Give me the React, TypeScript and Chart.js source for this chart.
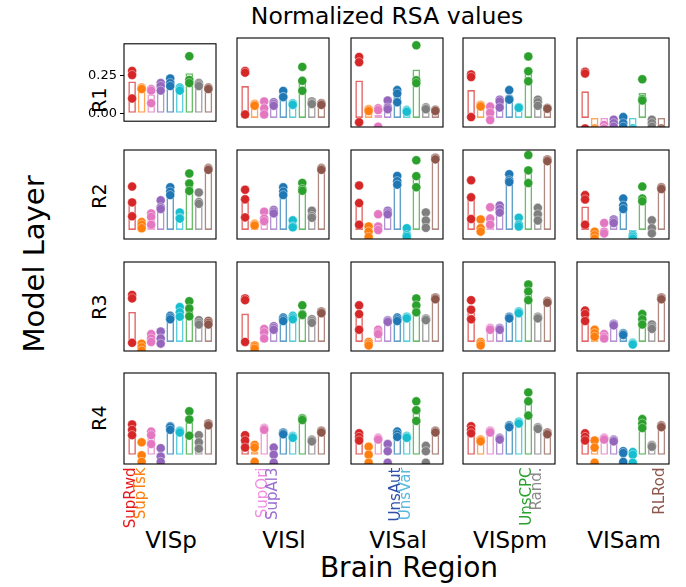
import React, { useEffect, useRef } from 'react';
import { Chart, registerables } from 'chart.js';
Chart.register(...registerables);

const CATEGORIES = ['SupRwd', 'SupTsk', 'SupOri', 'SupAl3', 'UnsAut', 'UnsVar', 'UnsCPC', 'Rand.', 'RLRod'];
const COLORS = ['#d62728', '#ff7f0e', '#e377c2', '#9467bd', '#1f77b4', '#17becf', '#2ca02c', '#7f7f7f', '#8c564b'];
const BAR_EDGE = ['rgba(214,39,40,0.7)', 'rgba(255,127,14,0.7)', 'rgba(227,119,194,0.7)', 'rgba(148,103,189,0.7)', 'rgba(31,119,180,0.7)', 'rgba(23,190,207,0.7)', 'rgba(44,160,44,0.7)', 'rgba(127,127,127,0.7)', 'rgba(140,86,75,0.7)'];
const LABEL_COLORS = ['#e41a1c', '#ff7f0e', '#f28ee0', '#9d6fd0', '#2f4fa8', '#5ab8e0', '#2ca02c', '#8a8a8a', '#8c564b'];
const REGIONS = ['VISp', 'VISl', 'VISal', 'VISpm', 'VISam'];
const LAYERS = ['R1', 'R2', 'R3', 'R4'];
const LAYER_LABEL_Y = [100, 196, 307, 418];
const Y_TICKS = [0, 0.25];
const Y_MIN = -0.052;
const Y_MAX = 0.459;
const COLUMN_LABELS = [[0, 1], [2, 3], [4, 5], [6, 7], [8]];

// bar heights: [region][category]
const R1_BARS = [
  [0.21, 0.17, 0.125, 0.18, 0.2, 0.16, 0.265, 0.19, 0.165],
  [0.183, 0.075, 0.057, 0.08, 0.13, 0.08, 0.22, 0.085, 0.08],
  [0.215, 0.045, 0.017, 0.07, 0.13, 0.04, 0.278, 0.055, 0.045],
  [0.16, 0.07, 0.028, 0.087, 0.125, 0.06, 0.277, 0.088, 0.055],
  [0.153, -0.07, -0.05, -0.03, -0.025, -0.05, 0.143, -0.03, -0.05],
];
const R2_BARS = [
  [0.162, 0.03, 0.067, 0.14, 0.22, 0.075, 0.27, 0.17, 0.35],
  [0.16, 0.03, 0.073, 0.105, 0.22, 0.03, 0.243, 0.087, 0.35],
  [0.146, -0.01, 0.036, 0.1, 0.283, -0.02, 0.318, 0.055, 0.41],
  [0.178, 0.02, 0.075, 0.12, 0.293, 0.04, 0.347, 0.09, 0.4],
  [0.135, -0.03, 0.003, 0.05, 0.147, -0.04, 0.198, 0.015, 0.24],
];
const R3_BARS = [
  [0.172, -0.03, 0.022, 0.023, 0.14, 0.172, 0.191, 0.112, 0.11],
  [0.163, -0.03, 0.05, 0.08, 0.13, 0.14, 0.175, 0.12, 0.17],
  [0.147, -0.01, 0.057, 0.12, 0.13, 0.14, 0.21, 0.13, 0.25],
  [0.185, -0.01, 0.075, 0.075, 0.14, 0.17, 0.287, 0.14, 0.23],
  [0.153, 0.05, 0.032, 0.1, 0.045, -0.01, 0.13, 0.087, 0.25],
];
const R4_BARS = [
  [0.14, 0.009, 0.1, -0.004, 0.152, 0.13, 0.183, 0.071, 0.17],
  [0.077, 0.018, 0.145, 0.0, 0.12, 0.1, 0.2, 0.08, 0.13],
  [0.1, 0.0, 0.09, 0.012, 0.115, 0.1, 0.247, 0.008, 0.13],
  [0.14, 0.08, 0.13, 0.09, 0.16, 0.18, 0.29, 0.15, 0.12],
  [0.1, 0.025, 0.09, 0.08, -0.003, -0.01, 0.175, 0.05, 0.16],
];

// individual points: [region][category][run]
const R1_POINTS = [
  [[0.28, 0.253, 0.098], [0.17, 0.165, 0.16], [0.16, 0.15, 0.067], [0.2, 0.18, 0.15], [0.23, 0.2, 0.18], [0.17, 0.16, 0.15], [0.377, 0.22, 0.2], [0.2, 0.19, 0.18], [0.17, 0.165, 0.16]],
  [[0.27, 0.26, 0.02], [0.08, 0.075, 0.07], [0.095, 0.055, 0.02], [0.09, 0.08, 0.07], [0.155, 0.12, 0.12], [0.085, 0.08, 0.075], [0.293, 0.213, 0.156], [0.095, 0.085, 0.08], [0.085, 0.08, 0.075]],
  [[0.35, 0.32, -0.025], [0.05, 0.045, 0.04], [0.055, 0.045, -0.05], [0.1, 0.06, 0.05], [0.16, 0.14, 0.09], [0.045, 0.04, 0.035], [0.417, 0.216, 0.2], [0.061, 0.055, 0.05], [0.046, 0.045, 0.04]],
  [[0.25, 0.235, 0.005], [0.075, 0.07, 0.065], [0.065, 0.03, -0.012], [0.105, 0.095, 0.06], [0.16, 0.11, 0.105], [0.062, 0.06, 0.058], [0.353, 0.268, 0.211], [0.105, 0.09, 0.07], [0.057, 0.055, 0.053]],
  [[0.265, 0.255, -0.06], [-0.06, -0.07, -0.08], [-0.04, -0.06, -0.06], [-0.01, -0.03, -0.05], [0.005, -0.03, -0.05], [-0.06, -0.06, -0.07], [0.222, 0.108, 0.1], [-0.01, -0.03, -0.05], [-0.06, -0.07, -0.08]],
];
const R2_POINTS = [
  [[0.249, 0.158, 0.078], [0.045, 0.03, 0.01], [0.095, 0.075, 0.03], [0.17, 0.13, 0.12], [0.245, 0.22, 0.2], [0.1, 0.07, 0.065], [0.324, 0.267, 0.224], [0.215, 0.16, 0.15], [0.355, 0.35, 0.345]],
  [[0.231, 0.176, 0.072], [0.035, 0.03, 0.025], [0.105, 0.065, 0.05], [0.115, 0.105, 0.095], [0.245, 0.22, 0.2], [0.055, 0.02, 0.015], [0.27, 0.235, 0.225], [0.11, 0.08, 0.07], [0.355, 0.35, 0.345]],
  [[0.255, 0.154, 0.03], [0.02, -0.01, -0.04], [0.09, 0.02, 0.0], [0.11, 0.1, 0.09], [0.31, 0.28, 0.26], [0.01, -0.03, -0.04], [0.4, 0.309, 0.245], [0.1, 0.054, 0.012], [0.415, 0.41, 0.405]],
  [[0.285, 0.187, 0.063], [0.06, 0.01, -0.01], [0.13, 0.065, 0.03], [0.14, 0.12, 0.1], [0.32, 0.285, 0.275], [0.07, 0.03, 0.02], [0.43, 0.342, 0.269], [0.127, 0.09, 0.054], [0.405, 0.4, 0.395]],
  [[0.2, 0.175, 0.03], [-0.01, -0.03, -0.05], [0.04, -0.01, -0.02], [0.06, 0.05, 0.04], [0.18, 0.14, 0.12], [-0.03, -0.04, -0.05], [0.249, 0.18, 0.165], [0.055, 0.01, -0.02], [0.245, 0.24, 0.235]],
];
const R3_POINTS = [
  [[0.27, 0.25, -0.005], [-0.01, -0.03, -0.05], [0.045, 0.02, 0.0], [0.06, 0.02, -0.01], [0.15, 0.14, 0.13], [0.2, 0.17, 0.145], [0.234, 0.192, 0.147], [0.125, 0.11, 0.1], [0.12, 0.11, 0.1]],
  [[0.25, 0.24, 0.0], [-0.02, -0.03, -0.04], [0.075, 0.055, 0.02], [0.09, 0.08, 0.07], [0.14, 0.13, 0.12], [0.15, 0.14, 0.13], [0.21, 0.16, 0.155], [0.13, 0.12, 0.11], [0.175, 0.17, 0.165]],
  [[0.21, 0.16, 0.07], [0.0, -0.01, -0.02], [0.07, 0.055, 0.045], [0.125, 0.12, 0.115], [0.14, 0.13, 0.12], [0.145, 0.14, 0.135], [0.25, 0.21, 0.17], [0.135, 0.13, 0.125], [0.255, 0.25, 0.245]],
  [[0.24, 0.185, 0.13], [0.0, -0.01, -0.02], [0.08, 0.075, 0.07], [0.08, 0.075, 0.07], [0.145, 0.14, 0.135], [0.175, 0.17, 0.165], [0.33, 0.29, 0.24], [0.145, 0.14, 0.135], [0.235, 0.23, 0.225]],
  [[0.18, 0.16, 0.12], [0.07, 0.05, 0.03], [0.045, 0.03, 0.02], [0.105, 0.1, 0.095], [0.05, 0.045, 0.04], [-0.005, -0.01, -0.015], [0.16, 0.13, 0.1], [0.1, 0.085, 0.075], [0.255, 0.25, 0.245]],
];
const R4_POINTS = [
  [[0.17, 0.14, 0.11], [0.07, -0.003, -0.04], [0.13, 0.11, 0.06], [0.037, -0.01, -0.04], [0.16, 0.155, 0.14], [0.135, 0.13, 0.125], [0.244, 0.198, 0.107], [0.11, 0.07, 0.034], [0.176, 0.17, 0.165]],
  [[0.11, 0.08, 0.04], [0.055, 0.04, -0.04], [0.15, 0.145, 0.14], [0.04, 0.0, -0.045], [0.125, 0.12, 0.115], [0.105, 0.1, 0.095], [0.205, 0.2, 0.195], [0.085, 0.08, 0.075], [0.135, 0.13, 0.125]],
  [[0.12, 0.1, 0.08], [0.045, 0.0, -0.045], [0.095, 0.09, 0.085], [0.06, 0.02, -0.045], [0.13, 0.115, 0.1], [0.105, 0.1, 0.095], [0.3, 0.25, 0.19], [0.05, 0.02, -0.045], [0.135, 0.13, 0.125]],
  [[0.16, 0.14, 0.12], [0.085, 0.08, 0.075], [0.135, 0.13, 0.125], [0.095, 0.09, 0.085], [0.165, 0.16, 0.155], [0.185, 0.18, 0.175], [0.35, 0.3, 0.22], [0.155, 0.15, 0.145], [0.125, 0.12, 0.115]],
  [[0.12, 0.1, 0.08], [0.08, 0.04, -0.045], [0.095, 0.09, 0.085], [0.085, 0.08, 0.075], [0.02, 0.01, -0.04], [0.015, 0.0, -0.045], [0.2, 0.175, 0.15], [0.055, 0.05, 0.045], [0.165, 0.16, 0.155]],
];

const ROW_BARS = [R1_BARS, R2_BARS, R3_BARS, R4_BARS];
const ROW_POINTS = [R1_POINTS, R2_POINTS, R3_POINTS, R4_POINTS];

const PANEL_LEFTS = [124, 237, 351, 463, 577];
const PANEL_TOPS = [36, 148, 260, 371];
const PANEL_W = 94;
const PANEL_H = 93;
const PAD_L = 40;
const PAD_T = 3;
const PAD_R = 3;
const FONT = '"DejaVu Sans", Verdana, sans-serif';

function Panel({ row, col }: { row: number; col: number }) {
  const ref = useRef<HTMLCanvasElement | null>(null);
  const padB = row === 3 ? 80 : 3;
  const showY = row === 0 && col === 0;
  const cw = PAD_L + PANEL_W + PAD_R;
  const ch = PAD_T + PANEL_H + padB;

  useEffect(() => {
    if (!ref.current) return;
    const bars = ROW_BARS[row][col];
    const pts = ROW_POINTS[row][col];
    const barData = bars.map((v, i) => ({ x: i, y: v }));
    const ptData: { x: number; y: number }[] = [];
    const ptColors: string[] = [];
    pts.forEach((list, i) => {
      list.forEach((v) => {
        ptData.push({ x: i, y: v });
        ptColors.push(COLORS[i]);
      });
    });

    const framePlugin = {
      id: 'frame',
      afterDatasetsDraw(chart: any) {
        const { ctx, chartArea } = chart;
        ctx.save();
        ctx.strokeStyle = '#000';
        ctx.lineWidth = 1.1;
        ctx.strokeRect(chartArea.left, chartArea.top, chartArea.right - chartArea.left, chartArea.bottom - chartArea.top);
        ctx.restore();
      },
    };
    const labelPlugin = {
      id: 'catLabels',
      afterDraw(chart: any) {
        if (row !== 3) return;
        const { ctx, chartArea } = chart;
        const xs = chart.scales.x;
        ctx.save();
        ctx.font = `15px ${FONT}`;
        COLUMN_LABELS[col].forEach((idx) => {
          const x = xs.getPixelForValue(idx);
          ctx.save();
          ctx.translate(x - 1, chartArea.bottom + 3.5);
          ctx.rotate(-Math.PI / 2);
          ctx.textAlign = 'right';
          ctx.textBaseline = 'middle';
          ctx.fillStyle = LABEL_COLORS[idx];
          ctx.fillText(CATEGORIES[idx], 0, 0);
          ctx.restore();
        });
        ctx.restore();
      },
    };

    const yScale: any = {
      type: 'linear',
      min: Y_MIN,
      max: Y_MAX,
      display: showY,
    };
    if (showY) {
      Object.assign(yScale, {
        afterBuildTicks: (s: any) => {
          s.ticks = Y_TICKS.map((v) => ({ value: v }));
        },
        afterFit: (s: any) => {
          s.width = PAD_L - 4;
        },
        border: { display: false },
        grid: { display: true, drawOnChartArea: false, drawTicks: true, tickLength: 4, color: '#000', lineWidth: 1 },
        ticks: {
          color: '#000',
          padding: 3,
          font: { family: FONT, size: 13 },
          callback: (v: any) => Number(v).toFixed(2),
        },
      });
    }

    const chart = new Chart(ref.current, {
      type: 'scatter',
      data: {
        datasets: [
          {
            type: 'scatter',
            data: ptData,
            backgroundColor: ptColors,
            borderColor: 'rgba(255,255,255,0.8)',
            borderWidth: 0.5,
            pointRadius: 4.5,
            clip: 0,
            order: 1,
          } as any,
          {
            type: 'bar',
            data: barData,
            backgroundColor: 'rgba(255,255,255,0.6)',
            borderColor: BAR_EDGE,
            borderWidth: 1.6,
            borderSkipped: false,
            barPercentage: 0.8,
            categoryPercentage: 1,
            clip: 0,
            order: 2,
          } as any,
        ],
      },
      options: {
        responsive: false,
        animation: false,
        events: [],
        layout: { padding: { left: showY ? 4 : PAD_L, right: PAD_R, top: PAD_T, bottom: padB } },
        plugins: { legend: { display: false }, tooltip: { enabled: false } },
        scales: {
          x: {
            type: 'linear',
            min: -0.85,
            max: 8.8,
            offset: false,
            display: false,
          },
          y: yScale,
        },
      },
      plugins: [framePlugin, labelPlugin],
    });
    return () => chart.destroy();
  }, [row, col]);

  return (
    <canvas
      ref={ref}
      width={cw}
      height={ch}
      style={{ position: 'absolute', left: PANEL_LEFTS[col] - PAD_L, top: PANEL_TOPS[row] - PAD_T, width: cw, height: ch }}
    />
  );
}

export default function App() {
  const text = (s: string, x: number, y: number, size: number, rotate = false) => (
    <div
      key={s + x + y}
      style={{
        position: 'absolute',
        left: x,
        top: y,
        transform: `translate(-50%, -50%)${rotate ? ' rotate(-90deg)' : ''}`,
        fontFamily: FONT,
        fontSize: size,
        whiteSpace: 'nowrap',
        color: '#000',
        lineHeight: 1,
      }}
    >
      {s}
    </div>
  );
  const panels = [];
  for (let r = 0; r < 4; r++) for (let c = 0; c < 5; c++) panels.push(<Panel key={`${r}-${c}`} row={r} col={c} />);
  return (
    <div style={{ position: 'absolute', left: 0, top: 0, width: 686, height: 587, background: '#fff', overflow: 'hidden' }}>
      {text('Normalized RSA values', 387, 17, 23.5)}
      {text('Model Layer', 34, 264, 29, true)}
      {text('Brain Region', 409, 568, 28)}
      {LAYERS.map((l, r) => text(l, 99, LAYER_LABEL_Y[r], 19, true))}
      {REGIONS.map((g, c) => text(g, PANEL_LEFTS[c] + PANEL_W / 2, 540, 23))}
      {panels}
    </div>
  );
}
